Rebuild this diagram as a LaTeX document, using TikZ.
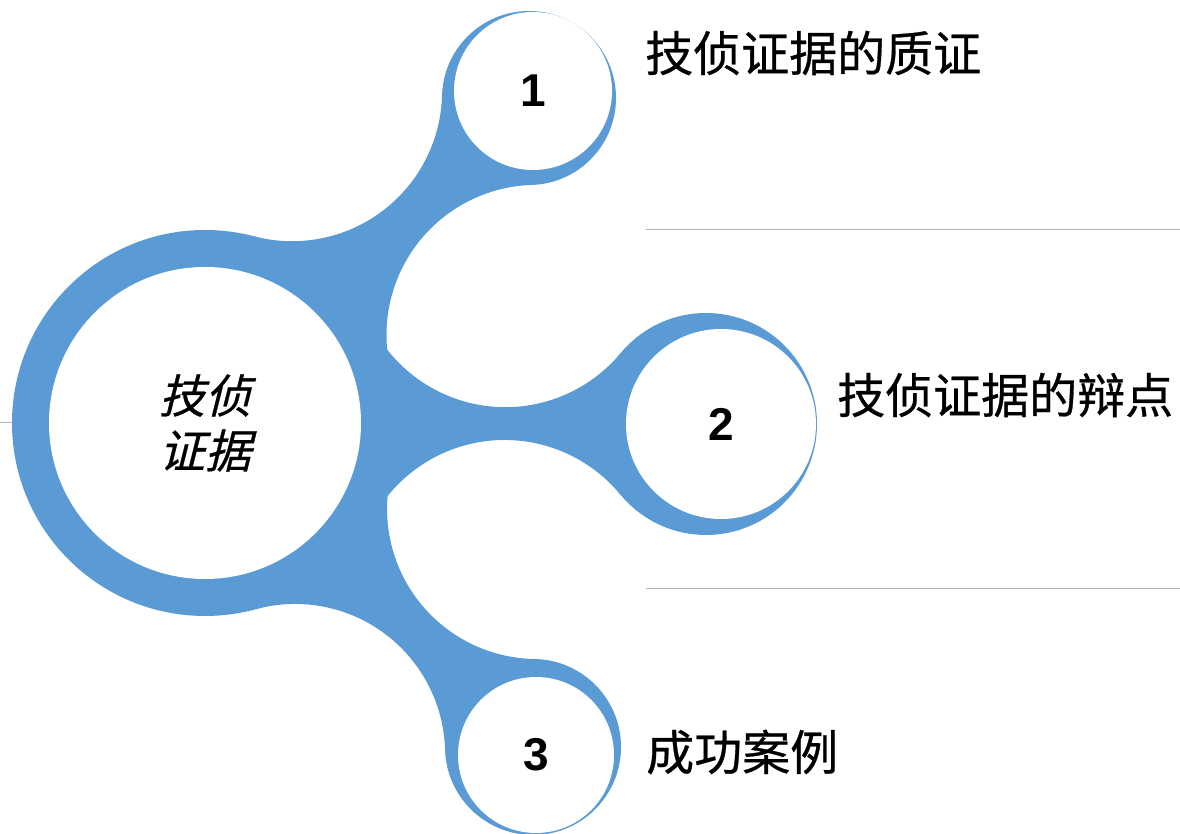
\documentclass[tikz,border=0pt]{standalone}
\usepackage{fontspec}
\newfontfamily\cjkfont[FakeBold=0.6]{Noto Sans CJK SC}
\newfontfamily\cjkslant[FakeSlant=0.25, FakeBold=0.6]{Noto Sans CJK SC}
\newfontfamily\numfont{Liberation Sans}
\definecolor{ringblue}{HTML}{5B9BD5}
\tikzset{
	x=1pt, y=1pt, % one unit is one pixel of the slide
	ring/.style={fill=ringblue}, % blue rings and the bridges between them
	hole/.style={circle, fill=white, inner sep=0pt}, % white discs inside the rings
	number/.style={font=\numfont\bfseries\fontsize{46}{46}\selectfont}, % the 1, 2, 3
	topic/.style={anchor=west, inner sep=0pt, font=\cjkfont\fontsize{48}{48}\selectfont}, % texts on the right
	sepline/.style={draw=black!30, line width=1pt}, % thin grey rules
}
\begin{document}
\begin{tikzpicture}
	\useasboundingbox (0,0) rectangle (1180,834);
	% centres of the rings
	\coordinate (c0) at (205,411);
	\coordinate (c1) at (529,736);
	\coordinate (c2) at (706,410);
	\coordinate (c3) at (533,87);
	% where the bridges leave the rings
	\coordinate (t1) at (254.02,597.67);
	\coordinate (u1) at (531.75,649.04);
	\coordinate (t2) at (374.01,504.30);
	\coordinate (u2) at (620.31,339.44);
	\coordinate (t3) at (391.84,362.59);
	\coordinate (u3) at (445.04,84.42);
	% ends of the rules
	\coordinate (e0) at (0,411);
	\coordinate (e1) at (646,604.5);
	\coordinate (f1) at (1180,604.5);
	\coordinate (e2) at (646,245);
	\coordinate (f2) at (1180,245);

	\draw[sepline] (e0) -- (c0);
	\draw[sepline] (e1) -- (f1);
	\draw[sepline] (e2) -- (f2);

	\fill[ring] (c0) circle[radius=193];
	\fill[ring] (c1) circle[radius=87];
	\fill[ring] (c2) circle[radius=111];
	\fill[ring] (c3) circle[radius=88];

	\fill[ring] (t1) arc[start angle=-104.71, end angle=-1.63, radius=150] -- (c1)
		-- (u1) arc[start angle=91.81, end angle=194.89, radius=150] -- (c0) -- cycle;
	\fill[ring] (t2) arc[start angle=208.91, end angle=320.28, radius=150] -- (c2)
		-- (u2) arc[start angle=39.5, end angle=150.86, radius=150] -- (c0) -- cycle;
	\fill[ring] (t3) arc[start angle=165.47, end angle=269.03, radius=150] -- (c3)
		-- (u3) arc[start angle=1.67, end angle=105.23, radius=150] -- (c0) -- cycle;

	\node[hole, minimum size=312pt, align=center, font=\cjkslant\fontsize{46}{55}\selectfont] (m) at (205,411) {技侦\\证据};
	\node[hole, number, minimum size=158pt] (s1) at (533,743) {1};
	\node[hole, number, minimum size=190pt] (s2) at (721,410) {2};
	\node[hole, number, minimum size=156pt] (s3) at (536,79) {3};

	\node[topic] (l1) at (645,781) {技侦证据的质证};
	\node[topic] (l2) at (837,439) {技侦证据的辩点};
	\node[topic] (l3) at (646,82) {成功案例};
\end{tikzpicture}
\end{document}
